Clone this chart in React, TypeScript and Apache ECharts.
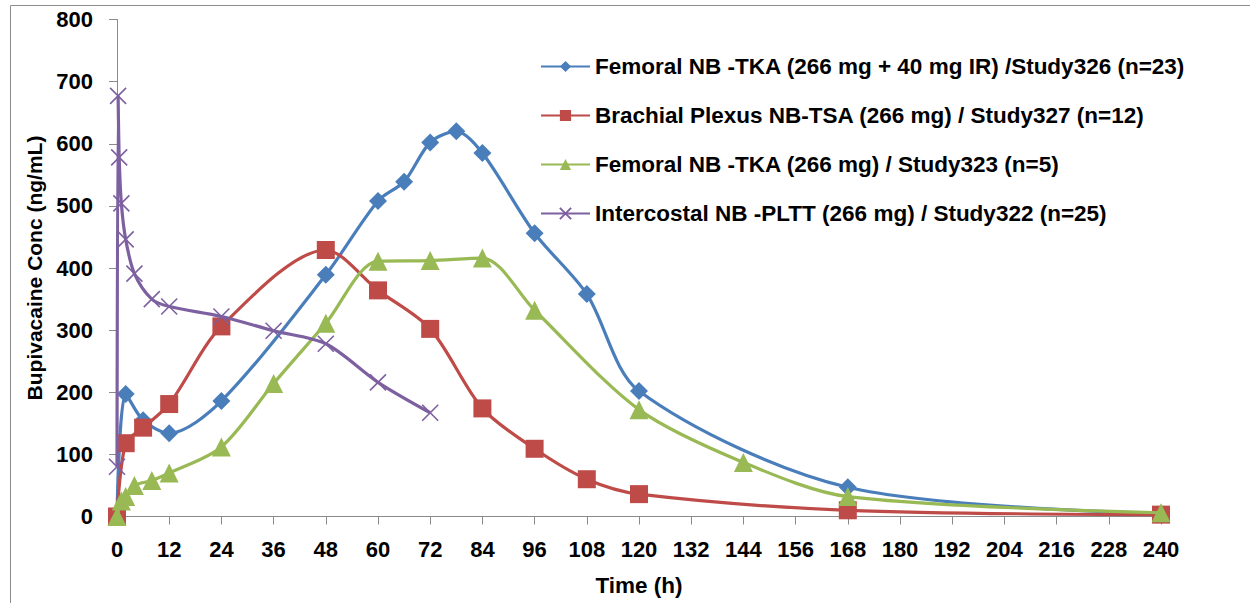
import React, { useEffect, useRef } from "react";
import * as echarts from "echarts";

const seriesNames = [
  "Femoral NB -TKA (266 mg + 40 mg IR) /Study326 (n=23)",
  "Brachial Plexus NB-TSA (266 mg) / Study327 (n=12)",
  "Femoral NB -TKA (266 mg) / Study323 (n=5)",
  "Intercostal NB -PLTT (266 mg) / Study322 (n=25)",
];

const femoral326Time = [0, 2, 6, 12, 24, 48, 60, 66, 72, 78, 84, 96, 108, 120, 168, 240];
const femoral326Conc = [0, 197, 155, 134, 186, 389, 508, 539, 602, 620, 585, 456, 358, 202, 47, 5];

const brachial327Time = [0, 2, 6, 12, 24, 48, 60, 72, 84, 96, 108, 120, 168, 240];
const brachial327Conc = [0, 118, 143, 181, 306, 429, 364, 302, 174, 109, 60, 36, 10, 3];

const femoral323Time = [0, 1, 2, 4, 8, 12, 24, 36, 48, 60, 72, 84, 96, 120, 144, 168, 240];
const femoral323Conc = [0, 25, 32, 50, 58, 70, 112, 214, 311, 411, 412, 416, 332, 172, 87, 32, 6];

const intercostal322Time = [0, 0.25, 0.5, 1, 2, 4, 8, 12, 24, 36, 48, 60, 72];
const intercostal322Conc = [80, 677, 578, 504, 446, 391, 350, 338, 322, 299, 278, 216, 167];

const colors = ["#4A7EBB", "#BE4B48", "#98B954", "#7D60A0"];

const pair = (t: number[], v: number[]) => t.map((x, i) => [x, v[i]]);

const labelFont = "'Liberation Sans', Arial, sans-serif";
const textFont = "'Liberation Sans', Arial, sans-serif";

export default function App() {
  const ref = useRef<HTMLDivElement>(null);
  useEffect(() => {
    if (!ref.current) return;
    const chart = echarts.init(ref.current, undefined, { renderer: "svg" });
    const axisLine = { show: true, lineStyle: { color: "#8A8A8A", width: 1 } };
    const common = (name: string, idx: number, symbol: string, size: number, extra: any = {}) => ({
      name,
      type: "line",
      smooth: 0.3,
      symbol,
      symbolSize: size,
      showAllSymbol: true,
      lineStyle: { color: colors[idx], width: 3.2 },
      itemStyle: { color: colors[idx], ...extra },
      z: 2 + idx,
    });
    chart.setOption({
      animation: false,
      backgroundColor: "#ffffff",
      graphic: [
        {
          type: "rect",
          left: 8,
          top: 3,
          shape: { width: 1300, height: 700 },
          style: { fill: "none", stroke: "#8C8C8C", lineWidth: 1 },
          z: 0,
        },
      ],
      grid: { left: 117, right: 89, top: 19.5, bottom: 86.5, containLabel: false },
      legend: {
        orient: "vertical",
        left: 540,
        top: 54,
        padding: 0,
        itemWidth: 49,
        itemHeight: 14,
        itemGap: 24,
        textStyle: {
          fontFamily: textFont,
          fontWeight: "bold",
          fontSize: 22.5,
          color: "#000",
          lineHeight: 25,
        },
        data: seriesNames,
      },
      xAxis: {
        type: "value",
        min: 0,
        max: 240,
        interval: 12,
        name: "Time (h)",
        nameLocation: "middle",
        nameGap: 57,
        nameTextStyle: { fontFamily: textFont, fontWeight: "bold", fontSize: 22.5, color: "#000" },
        axisLine,
        axisTick: { show: true, inside: false, length: 8, lineStyle: { color: "#8A8A8A" } },
        axisLabel: { fontFamily: labelFont, fontWeight: "bold", fontSize: 22, color: "#000", margin: 22 },
        splitLine: { show: false },
      },
      yAxis: {
        type: "value",
        min: 0,
        max: 800,
        interval: 100,
        name: "Bupivacaine Conc (ng/mL)",
        nameLocation: "middle",
        nameGap: 65,
        nameTextStyle: { fontFamily: textFont, fontWeight: "bold", fontSize: 21, color: "#000" },
        axisLine,
        axisTick: { show: true, inside: false, length: 8, lineStyle: { color: "#8A8A8A" } },
        axisLabel: { fontFamily: labelFont, fontWeight: "bold", fontSize: 22, color: "#000", margin: 24 },
        splitLine: { show: false },
      },
      series: [
        { ...common(seriesNames[0], 0, "diamond", 18), data: pair(femoral326Time, femoral326Conc) },
        { ...common(seriesNames[1], 1, "rect", 18), data: pair(brachial327Time, brachial327Conc) },
        { ...common(seriesNames[2], 2, "triangle", 19), data: pair(femoral323Time, femoral323Conc) },
        {
          ...common(seriesNames[3], 3, "path://M0,0L10,10M10,0L0,10", 16, {
            borderColor: colors[3],
            borderWidth: 1.6,
          }),
          data: pair(intercostal322Time, intercostal322Conc),
        },
      ],
    });
    return () => chart.dispose();
  }, []);
  return (
    <div
      ref={ref}
      style={{ position: "fixed", left: 0, top: 0, width: 1250, height: 603, background: "#fff" }}
    />
  );
}
